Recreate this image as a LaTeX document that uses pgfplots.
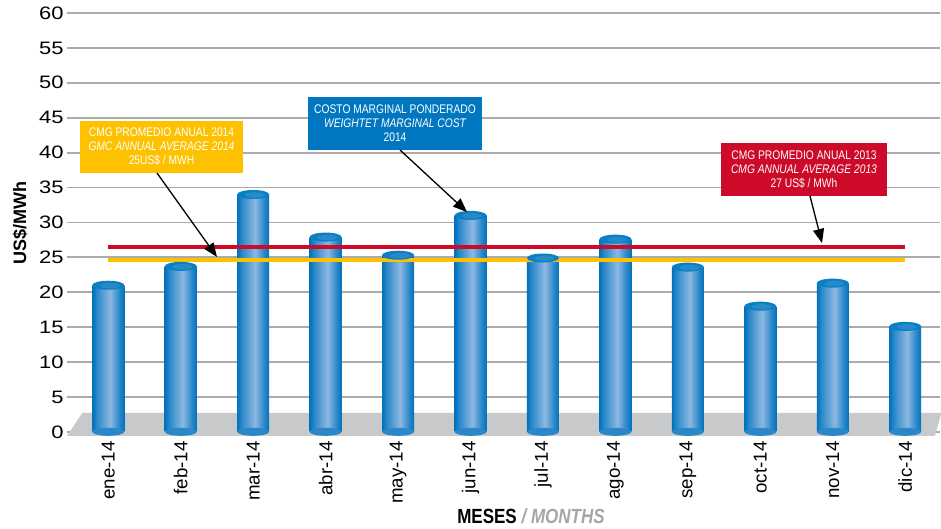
\documentclass[border=0pt]{standalone}
\usepackage{pgfplots}
\pgfplotsset{compat=1.18}
\usepackage{pgfplotstable}
\usepackage{graphicx}
\usepackage{fontspec}
\setmainfont{Liberation Sans}
\usetikzlibrary{arrows.meta}
\definecolor{cdark}{HTML}{0072BB}
\definecolor{cmid}{HTML}{2A88CA}
\definecolor{clight}{HTML}{8DB8E0}
\definecolor{ctop}{HTML}{0A7FC4}
\definecolor{ctopl}{HTML}{2589CA}
\definecolor{gridg}{HTML}{ABABAB}
\definecolor{floorg}{HTML}{C8C9CB}
\definecolor{cred}{HTML}{CE0A2B}
\definecolor{cgold}{HTML}{FDC100}
\definecolor{cblue}{HTML}{0077C0}
\definecolor{labgray}{HTML}{A6A6A6}
\pgfdeclarehorizontalshading{cyl}{100bp}{color(0bp)=(cdark); color(25bp)=(cdark); color(32bp)=(cmid); color(53bp)=(clight); color(67bp)=(cmid); color(75bp)=(cdark); color(100bp)=(cdark)}
\pgfdeclareplotmark{cylbot}{\pgfpathellipse{\pgfpointorigin}{\pgfpoint{16pt}{0pt}}{\pgfpoint{0pt}{4pt}}\pgfusepath{fill}}
\pgfdeclareplotmark{cyltop}{\pgfpathellipse{\pgfpointorigin}{\pgfpoint{16pt}{0pt}}{\pgfpoint{0pt}{4.5pt}}\pgfusepath{fill}}
\pgfdeclareplotmark{cyltopin}{\pgfpathellipse{\pgfpoint{1.5pt}{-0.5pt}}{\pgfpoint{10pt}{0pt}}{\pgfpoint{0pt}{2.8pt}}\pgfusepath{fill}}
\newcommand{\cond}[1]{\scalebox{0.82}[1]{#1}}
\pgfplotstableread{
x y b
0 21.0 0
1 23.7 0
2 34.0 0
3 27.9 0
4 25.3 0
5 31.0 0
6 24.9 0
7 27.6 0
8 23.6 0
9 18.0 0
10 21.3 0
11 15.1 0
}\bardata
\pgfplotstableread{
x y
0 26.5
11 26.5
}\redline
\pgfplotstableread{
x y
0 24.6
11 24.6
}\goldline
\begin{document}
\begin{tikzpicture}
\path[use as bounding box] (-67pt,-93pt) rectangle (874pt,436pt);
\begin{axis}[
  at={(0pt,0pt)}, anchor=south west, scale only axis,
  width=873pt, height=423pt,
  xmin=-0.57, xmax=11.48, ymin=-0.6, ymax=60,
  clip=false,
  axis line style={draw=none}, major tick length=0pt,
  ytick={0,5,...,60},
  ymajorgrids, grid style={color=gridg, line width=1.8pt},
  xtick={0,...,11},
  xticklabels={ene-14,feb-14,mar-14,abr-14,may-14,jun-14,jul-14,ago-14,sep-14,oct-14,nov-14,dic-14},
  tick label style={font=\fontsize{18}{21}\selectfont},
  xticklabel style={font=\fontsize{18.7}{21}\selectfont},
  /pgf/number format/assume math mode=true,
  yticklabel={\scalebox{1.22}[1]{\pgfmathprintnumber{\tick}}},
  yticklabel style={anchor=east},
  xticklabel style={rotate=90, anchor=east, xshift=-2pt},
]
\fill[floorg] (axis cs:-0.57,-0.6) -- (axis cs:11.41,-0.6) -- (axis cs:11.5,2.7) -- (axis cs:-0.36,2.7) -- cycle;
\addplot[only marks, mark=cylbot, mark options={fill=cmid, draw=none}] table[x=x,y=b] {\bardata};
\pgfplotsinvokeforeach{0,...,11}{
\addplot[ybar, bar width=32pt, bar shift=0pt, draw=none, shade, shading=cyl, restrict x to domain=#1:#1] table[x=x,y=y] {\bardata};
}
\addplot[only marks, mark=cyltop, mark options={fill=ctop, draw=none}] table[x=x,y=y] {\bardata};
\addplot[only marks, mark=cyltopin, mark options={fill=ctopl, draw=none}] table[x=x,y=y] {\bardata};
\addplot[cred, line width=4.5pt] table[x=x,y=y] {\redline};
\addplot[cgold, line width=4.5pt] table[x=x,y=y] {\goldline};
\end{axis}
\begin{scope}[x=1pt, y=-1pt, shift={(-67pt,436pt)}]
\fill[cgold] (80,121) rectangle (243,173);
\node[text=white, align=center, font=\fontsize{12.5}{14}\selectfont] at (161.5,147) {\cond{CMG PROMEDIO ANUAL 2014}\\\cond{\itshape GMC ANNUAL AVERAGE 2014}\\\cond{25US\$ / MWH}};
\fill[cblue] (308,97) rectangle (482,150);
\node[text=white, align=center, font=\fontsize{12.5}{14}\selectfont] at (395,123.5) {\cond{COSTO MARGINAL PONDERADO}\\\cond{\itshape WEIGHTET MARGINAL COST}\\\cond{2014}};
\fill[cred] (721,143) rectangle (887,196);
\node[text=white, align=center, font=\fontsize{12.5}{14}\selectfont] at (804,169.5) {\cond{CMG PROMEDIO ANUAL 2013}\\\cond{\itshape CMG ANNUAL AVERAGE 2013}\\\cond{27 US\$ / MWh}};
\draw[line width=1.3pt, -{Triangle[length=14pt, width=11pt]}] (157,173) -- (217,257);
\draw[line width=1.3pt, -{Triangle[length=14pt, width=11pt]}] (400,150) -- (467,212);
\draw[line width=1.3pt, -{Triangle[length=14pt, width=11pt]}] (810,196) -- (822,243);
\node[rotate=90, font=\bfseries\fontsize{18}{20}\selectfont] at (20,223) {US\$/MWh};
\node[font=\fontsize{20.5}{22}\selectfont] at (531,516) {\scalebox{0.83}[1]{\bfseries MESES \textcolor{labgray}{\itshape / MONTHS}}};
\end{scope}
\end{tikzpicture}
\end{document}
